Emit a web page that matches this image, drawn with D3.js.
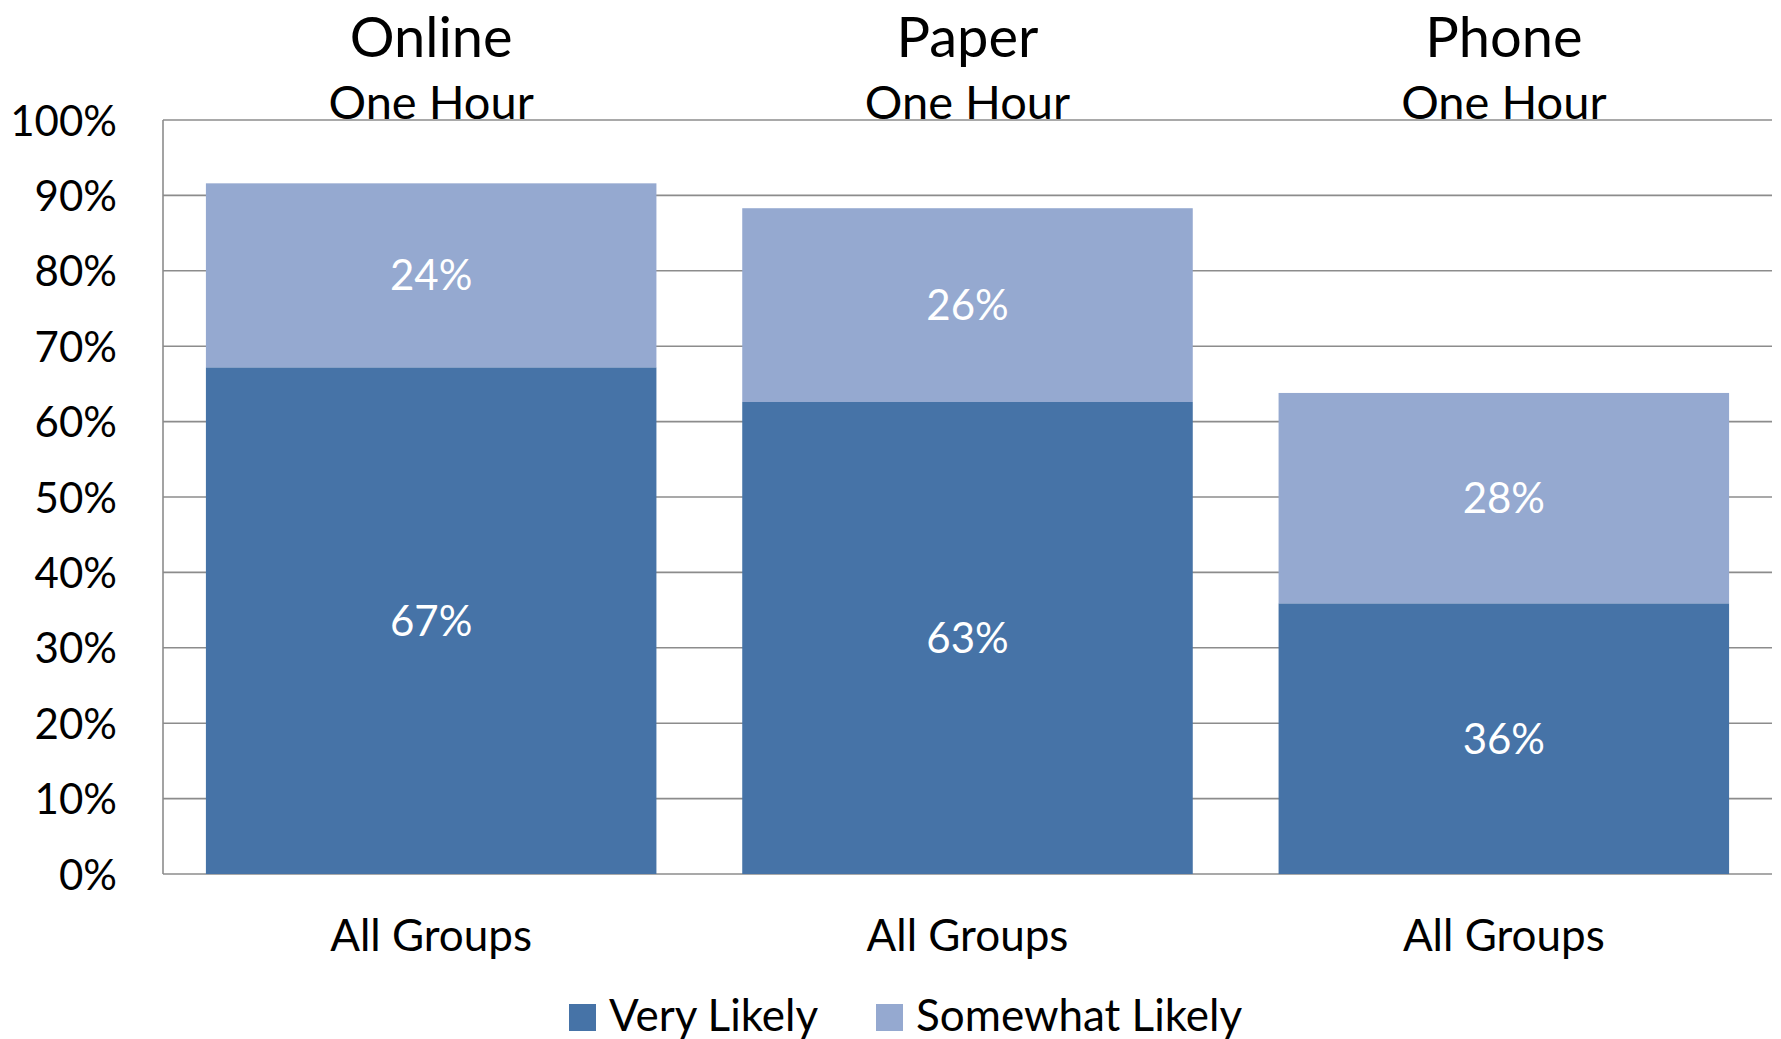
<!DOCTYPE html>
<html>
<head>
<meta charset="utf-8">
<script src="https://cdn.jsdelivr.net/npm/d3@7"></script>
<style>
  html, body { margin: 0; padding: 0; background: #fff; }
  svg { display: block; }
  text { font-family: Lato, "Open Sans", sans-serif; }
</style>
</head>
<body>
<svg id="chart" width="1781" height="1039"></svg>
<script>
const categories = ["Online", "Paper", "Phone"];
const subtitles = ["One Hour", "One Hour", "One Hour"];
const xLabels = ["All Groups", "All Groups", "All Groups"];
const seriesNames = ["Very Likely", "Somewhat Likely"];
const veryLikely = [67.2, 62.6, 35.9];
const somewhatLikely = [24.4, 25.7, 27.9];
const yTicks = [0, 10, 20, 30, 40, 50, 60, 70, 80, 90, 100];
const colors = ["#4673A7", "#95A9D0"];

const svg = d3.select("#chart");
const plotLeft = 163, plotRight = 1772, plotTop = 120, plotBottom = 874;

const x = d3.scaleBand().domain(d3.range(categories.length)).range([plotLeft, plotRight]).paddingInner(0.16).paddingOuter(0.08);
const y = d3.scaleLinear().domain([0, 100]).range([plotBottom, plotTop]);

// gridlines
svg.append("g").selectAll("line").data(yTicks).join("line")
  .attr("x1", plotLeft).attr("x2", plotRight)
  .attr("y1", d => y(d)).attr("y2", d => y(d))
  .attr("stroke", "#8c8c8c").attr("stroke-width", 1.6);

// left axis line
svg.append("line").attr("x1", plotLeft).attr("x2", plotLeft).attr("y1", plotTop).attr("y2", plotBottom)
  .attr("stroke", "#8c8c8c").attr("stroke-width", 1.6);

// y tick labels
const yAxis = d3.axisLeft(y).tickValues(yTicks).tickFormat(d => d + "%").tickSize(0).tickPadding(0);
const ga = svg.append("g").attr("transform", `translate(${plotLeft - 46},0)`).call(yAxis);
ga.select(".domain").remove();
ga.selectAll("text").attr("font-size", 42).attr("fill", "#000").attr("font-family", "Lato, sans-serif").attr("dy", "0.36em");

// stacked data
const stackData = categories.map((c, i) => ({ i, v: veryLikely[i], s: somewhatLikely[i] }));
const stack = d3.stack().keys(["v", "s"])(stackData);

const bandW = x.bandwidth();
const groups = svg.append("g").selectAll("g").data(stack).join("g")
  .attr("fill", (d, k) => colors[k]);
groups.selectAll("rect").data(d => d).join("rect")
  .attr("x", d => x(d.data.i))
  .attr("width", bandW)
  .attr("y", d => y(d[1]))
  .attr("height", d => y(d[0]) - y(d[1]));

// value labels
stack.forEach(layer => {
  svg.append("g").selectAll("text").data(layer).join("text")
    .attr("x", d => x(d.data.i) + bandW / 2)
    .attr("y", d => (y(d[0]) + y(d[1])) / 2)
    .attr("dy", "0.36em")
    .attr("text-anchor", "middle")
    .attr("font-size", 42)
    .attr("fill", "#fff")
    .text(d => Math.round(d[1] - d[0]) + "%");
});

// titles
svg.append("g").selectAll("text").data(categories).join("text")
  .attr("x", (d, i) => x(i) + bandW / 2)
  .attr("y", 57)
  .attr("text-anchor", "middle")
  .attr("font-size", 56)
  .attr("fill", "#000")
  .text(d => d);
svg.append("g").selectAll("text").data(subtitles).join("text")
  .attr("x", (d, i) => x(i) + bandW / 2)
  .attr("y", 119)
  .attr("text-anchor", "middle")
  .attr("font-size", 47)
  .attr("fill", "#000")
  .text(d => d);

// x labels
svg.append("g").selectAll("text").data(xLabels).join("text")
  .attr("x", (d, i) => x(i) + bandW / 2)
  .attr("y", 951)
  .attr("text-anchor", "middle")
  .attr("font-size", 44)
  .attr("fill", "#000")
  .text(d => d);

// legend
const legendX = [569, 876];
const lg = svg.append("g").selectAll("g").data(seriesNames).join("g")
  .attr("transform", (d, i) => `translate(${legendX[i]},1004)`);
lg.append("rect").attr("width", 27).attr("height", 27).attr("fill", (d, i) => colors[i]);
lg.append("text").attr("x", 40).attr("y", 27).attr("font-size", 44).attr("fill", "#000").text(d => d);
</script>
</body>
</html>
